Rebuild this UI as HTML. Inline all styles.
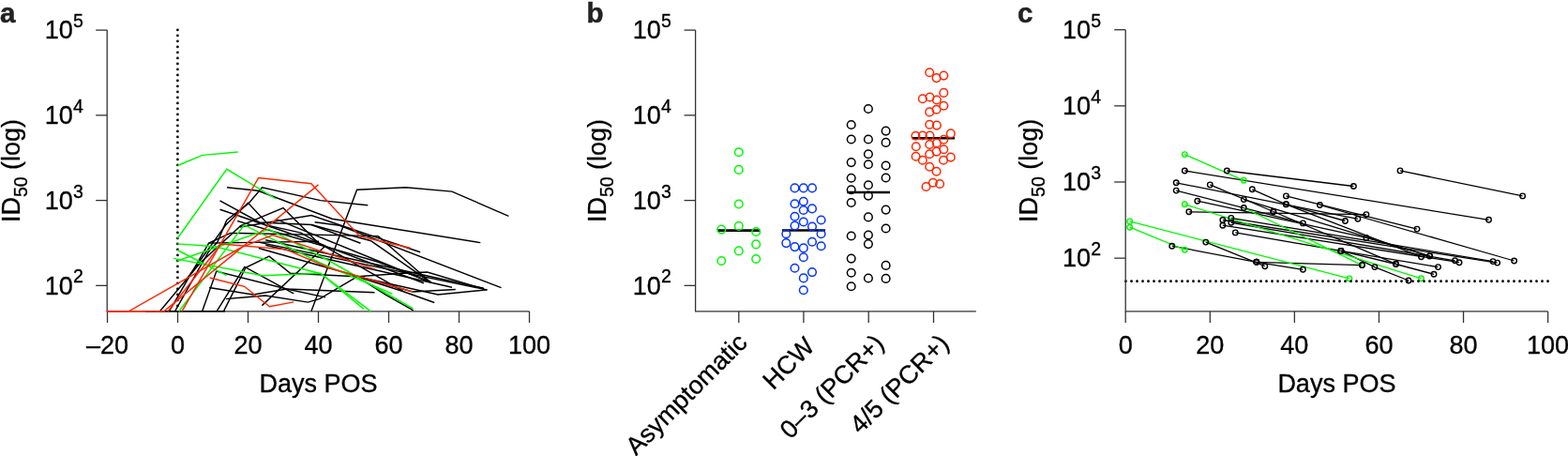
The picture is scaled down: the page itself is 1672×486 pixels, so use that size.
<!DOCTYPE html>
<html lang="en">
<head>
<meta charset="utf-8">
<title>Figure: ID50 over days POS</title>
<style>
html,body{margin:0;padding:0;background:#fff;}
body{width:1672px;height:486px;overflow:hidden;}
svg{display:block;}
svg text{stroke:#000;stroke-width:0.32px;stroke-linejoin:round;}
svg text.pl{stroke:#222;stroke-width:0.5px;}
</style>
</head>
<body>
<svg width="1672" height="486" viewBox="0 0 1672 486" font-family="'Liberation Sans', sans-serif" fill="#000">
<rect width="1672" height="486" fill="#fff"/>
<g id="panel-a">
<text x="0" y="24" class="pl" font-size="29.5" font-weight="bold" fill="#222">a</text>
<g stroke="#333333" stroke-width="1.3" fill="none">
<path d="M114.2 32.1V331.9H564.5"/>
<line x1="102.2" y1="32.10" x2="114.2" y2="32.10"/>
<line x1="102.2" y1="122.85" x2="114.2" y2="122.85"/>
<line x1="102.2" y1="213.60" x2="114.2" y2="213.60"/>
<line x1="102.2" y1="304.35" x2="114.2" y2="304.35"/>
<line x1="114.50" y1="331.9" x2="114.50" y2="344.0"/>
<line x1="189.50" y1="331.9" x2="189.50" y2="344.0"/>
<line x1="264.50" y1="331.9" x2="264.50" y2="344.0"/>
<line x1="339.50" y1="331.9" x2="339.50" y2="344.0"/>
<line x1="414.50" y1="331.9" x2="414.50" y2="344.0"/>
<line x1="489.50" y1="331.9" x2="489.50" y2="344.0"/>
<line x1="564.50" y1="331.9" x2="564.50" y2="344.0"/>
</g>
<line x1="189.4" y1="31.9" x2="189.4" y2="331.9" stroke="#000" stroke-width="2.8" stroke-linecap="round" stroke-dasharray="0 6"/>
<g fill="none" stroke-width="1.45" stroke-linejoin="miter" stroke-linecap="butt">
<polyline points="155.0,331.8 240.0,331.8" stroke="#000000"/>
<polyline points="242.0,199.7 275.1,203.3 354.1,233.3 512.3,258.6" stroke="#000000"/>
<polyline points="231.9,258.0 241.7,234.6 265.2,216.7 279.5,199.7 341.7,213.6 392.3,218.8" stroke="#000000"/>
<polyline points="331.9,331.8 380.6,202.2 432.8,199.8 481.9,204.1 542.4,230.4" stroke="#000000"/>
<polyline points="215.6,331.8 230.8,289.0 305.8,308.0 399.5,311.7" stroke="#000000"/>
<polyline points="231.0,331.8 260.8,284.4 313.2,312.9" stroke="#000000"/>
<polyline points="223.0,306.5 270.0,314.0 305.8,308.0 347.0,316.9" stroke="#000000"/>
<polyline points="234.5,213.9 276.7,237.0 332.0,239.5 395.8,256.8" stroke="#000000"/>
<polyline points="234.5,223.2 294.5,243.7 347.0,261.9" stroke="#000000"/>
<polyline points="197.3,300.0 240.5,240.0 264.5,216.3 287.4,240.7 320.8,248.1 429.5,310.2" stroke="#000000"/>
<polyline points="170.5,331.8 213.7,280.0 256.5,240.7 302.0,221.7 340.5,260.0 452.0,301.8" stroke="#000000"/>
<polyline points="238.4,331.8 261.9,285.4 287.0,273.1 309.6,291.2 380.8,294.8 410.8,313.9 440.8,330.9" stroke="#000000"/>
<polyline points="279.4,325.6 346.7,262.2" stroke="#000000"/>
<polyline points="240.9,318.6 282.9,315.1 328.3,322.1 340.6,318.6 380.8,294.8" stroke="#000000"/>
<polyline points="283.2,255.8 515.8,307.2" stroke="#000000"/>
<polyline points="380.8,294.8 437.0,290.7 455.6,290.1 516.0,308.0" stroke="#000000"/>
<polyline points="395.8,256.8 459.5,301.2" stroke="#000000"/>
<polyline points="403.2,251.6 459.5,301.2" stroke="#000000"/>
<polyline points="275.8,258.1 519.5,308.9" stroke="#000000"/>
<polyline points="283.2,261.2 482.0,306.3" stroke="#000000"/>
<polyline points="275.8,264.5 439.9,310.9 485.8,308.5" stroke="#000000"/>
<polyline points="294.5,233.7 459.5,301.0" stroke="#000000"/>
<polyline points="253.2,235.5 403.2,279.2 459.5,300.6" stroke="#000000"/>
<polyline points="186.5,331.8 222.6,268.0 231.9,258.0" stroke="#000000"/>
<polyline points="332.0,239.5 384.5,259.2" stroke="#000000"/>
<polyline points="256.0,242.0 332.0,229.6 448.2,268.8" stroke="#000000"/>
<polyline points="335.6,236.7 362.0,240.3 534.5,306.6" stroke="#000000"/>
<polyline points="222.6,259.1 245.8,248.4 403.2,251.6" stroke="#000000"/>
<polyline points="380.8,294.8 467.0,313.9 519.5,308.9" stroke="#000000"/>
<polyline points="380.8,294.8 429.5,310.5 463.2,322.5" stroke="#000000"/>
<polyline points="180.4,331.8 222.6,259.1 340.0,257.3" stroke="#000000"/>
<polyline points="189.3,176.5 215.8,165.4 253.7,162.0" stroke="#00f900"/>
<polyline points="189.3,254.0 241.8,180.3 294.3,212.0" stroke="#00f900"/>
<polyline points="190.9,331.8 260.4,239.8 341.1,280.0 418.3,313.1" stroke="#00f900"/>
<polyline points="189.1,278.0 286.7,244.3 354.7,280.0 440.5,329.0" stroke="#00f900"/>
<polyline points="189.1,259.9 229.4,262.8 342.3,291.7 388.0,329.4" stroke="#00f900"/>
<polyline points="189.1,266.5 241.7,293.7" stroke="#00f900"/>
<polyline points="184.9,275.4 280.0,293.7 341.7,291.2 395.4,331.8" stroke="#00f900"/>
<polyline points="113.7,331.8 137.2,331.8 258.0,263.3 290.8,250.5 399.8,286.9" stroke="#ff2600"/>
<polyline points="113.7,331.8 174.8,331.8 339.5,196.9" stroke="#ff2600"/>
<polyline points="194.0,331.8 275.7,189.5 331.9,195.7 383.7,251.9 437.4,264.3" stroke="#ff2600"/>
<polyline points="179.1,331.8 236.0,260.0 304.7,265.9 351.6,285.7 439.9,310.9" stroke="#ff2600"/>
<polyline points="223.6,296.0 260.6,305.3 287.4,326.7 313.3,321.9" stroke="#ff2600"/>
</g>
<text x="77.8" y="41.30" text-anchor="end" font-size="27">10</text><text x="88.8" y="29.10" text-anchor="end" font-size="19.5">5</text>
<text x="77.8" y="132.05" text-anchor="end" font-size="27">10</text><text x="88.8" y="119.85" text-anchor="end" font-size="19.5">4</text>
<text x="77.8" y="222.80" text-anchor="end" font-size="27">10</text><text x="88.8" y="210.60" text-anchor="end" font-size="19.5">3</text>
<text x="77.8" y="313.55" text-anchor="end" font-size="27">10</text><text x="88.8" y="301.35" text-anchor="end" font-size="19.5">2</text>
<text x="114.50" y="377.4" text-anchor="middle" font-size="27">–20</text>
<text x="189.50" y="377.4" text-anchor="middle" font-size="27">0</text>
<text x="264.50" y="377.4" text-anchor="middle" font-size="27">20</text>
<text x="339.50" y="377.4" text-anchor="middle" font-size="27">40</text>
<text x="414.50" y="377.4" text-anchor="middle" font-size="27">60</text>
<text x="489.50" y="377.4" text-anchor="middle" font-size="27">80</text>
<text x="564.50" y="377.4" text-anchor="middle" font-size="27">100</text>
<text x="339.50" y="417.7" text-anchor="middle" font-size="27">Days POS</text>
<text transform="translate(21 182.00) rotate(-90)" text-anchor="middle" font-size="27">ID<tspan dy="8" font-size="19.5">50</tspan><tspan dy="-8"> (log)</tspan></text>
</g>
<g id="panel-b">
<text x="625.5" y="24" class="pl" font-size="29.5" font-weight="bold" fill="#222">b</text>
<g stroke="#333333" stroke-width="1.3" fill="none">
<path d="M741.6 32.1V331.9H1040.8"/>
<line x1="729.6" y1="32.10" x2="741.6" y2="32.10"/>
<line x1="729.6" y1="122.85" x2="741.6" y2="122.85"/>
<line x1="729.6" y1="213.60" x2="741.6" y2="213.60"/>
<line x1="729.6" y1="304.35" x2="741.6" y2="304.35"/>
<line x1="787.8" y1="331.9" x2="787.8" y2="344.0"/>
<line x1="856.9" y1="331.9" x2="856.9" y2="344.0"/>
<line x1="926.2" y1="331.9" x2="926.2" y2="344.0"/>
<line x1="995.5" y1="331.9" x2="995.5" y2="344.0"/>
</g>
<text x="704.8" y="41.30" text-anchor="end" font-size="27">10</text><text x="715.8" y="29.10" text-anchor="end" font-size="19.5">5</text>
<text x="704.8" y="132.05" text-anchor="end" font-size="27">10</text><text x="715.8" y="119.85" text-anchor="end" font-size="19.5">4</text>
<text x="704.8" y="222.80" text-anchor="end" font-size="27">10</text><text x="715.8" y="210.60" text-anchor="end" font-size="19.5">3</text>
<text x="704.8" y="313.55" text-anchor="end" font-size="27">10</text><text x="715.8" y="301.35" text-anchor="end" font-size="19.5">2</text>
<text transform="translate(798.2 366.6) rotate(-45)" text-anchor="end" font-size="27">Asymptomatic</text>
<text transform="translate(870.0 370.8) rotate(-45)" text-anchor="end" font-size="27">HCW</text>
<text transform="translate(944.0 367.6) rotate(-45)" text-anchor="end" font-size="27">0–3 (PCR+)</text>
<text transform="translate(1013.3 367.6) rotate(-45)" text-anchor="end" font-size="27">4/5 (PCR+)</text>
<text transform="translate(646.3 182.00) rotate(-90)" text-anchor="middle" font-size="27">ID<tspan dy="8" font-size="19.5">50</tspan><tspan dy="-8"> (log)</tspan></text>
<g stroke="#000" stroke-width="2.6">
<line x1="764.8" y1="245.6" x2="810.5" y2="245.6"/>
<line x1="834" y1="245.5" x2="879.9" y2="245.5"/>
<line x1="903.3" y1="205.0" x2="949" y2="205.0"/>
<line x1="972.7" y1="147.2" x2="1018" y2="147.2"/>
</g>
<g fill="none" stroke-width="1.5">
<g stroke="#00f900">
<circle cx="787.8" cy="162.3" r="4.3"/>
<circle cx="787.8" cy="180.9" r="4.3"/>
<circle cx="787.8" cy="217.5" r="4.3"/>
<circle cx="787.8" cy="240.9" r="4.3"/>
<circle cx="769.3" cy="244.6" r="4.3"/>
<circle cx="806.2" cy="247.0" r="4.3"/>
<circle cx="806.2" cy="260.4" r="4.3"/>
<circle cx="787.8" cy="267.4" r="4.3"/>
<circle cx="806.2" cy="276.0" r="4.3"/>
<circle cx="769.3" cy="278.0" r="4.3"/>
</g>
<g stroke="#0433ff">
<circle cx="847.5" cy="200.4" r="4.3"/>
<circle cx="856.8" cy="200.4" r="4.3"/>
<circle cx="866.0" cy="200.4" r="4.3"/>
<circle cx="847.5" cy="217.2" r="4.3"/>
<circle cx="856.8" cy="214.8" r="4.3"/>
<circle cx="856.8" cy="224.0" r="4.3"/>
<circle cx="866.0" cy="222.4" r="4.3"/>
<circle cx="847.5" cy="230.8" r="4.3"/>
<circle cx="856.8" cy="236.5" r="4.3"/>
<circle cx="875.6" cy="234.5" r="4.3"/>
<circle cx="847.5" cy="240.6" r="4.3"/>
<circle cx="866.0" cy="241.6" r="4.3"/>
<circle cx="838.3" cy="249.3" r="4.3"/>
<circle cx="875.6" cy="249.3" r="4.3"/>
<circle cx="838.3" cy="259.1" r="4.3"/>
<circle cx="866.0" cy="257.7" r="4.3"/>
<circle cx="875.6" cy="262.2" r="4.3"/>
<circle cx="847.5" cy="263.1" r="4.3"/>
<circle cx="856.8" cy="264.4" r="4.3"/>
<circle cx="856.8" cy="274.2" r="4.3"/>
<circle cx="847.5" cy="285.8" r="4.3"/>
<circle cx="866.0" cy="290.1" r="4.3"/>
<circle cx="856.8" cy="296.4" r="4.3"/>
<circle cx="856.8" cy="309.3" r="4.3"/>
</g>
<g stroke="#000000">
<circle cx="925.9" cy="116.0" r="4.3"/>
<circle cx="907.7" cy="133.0" r="4.3"/>
<circle cx="944.6" cy="139.6" r="4.3"/>
<circle cx="907.7" cy="148.5" r="4.3"/>
<circle cx="925.9" cy="148.5" r="4.3"/>
<circle cx="944.6" cy="151.9" r="4.3"/>
<circle cx="925.9" cy="164.3" r="4.3"/>
<circle cx="907.7" cy="173.1" r="4.3"/>
<circle cx="925.9" cy="175.3" r="4.3"/>
<circle cx="944.6" cy="176.5" r="4.3"/>
<circle cx="907.7" cy="189.8" r="4.3"/>
<circle cx="944.6" cy="189.5" r="4.3"/>
<circle cx="925.9" cy="197.3" r="4.3"/>
<circle cx="907.7" cy="202.2" r="4.3"/>
<circle cx="925.9" cy="208.6" r="4.3"/>
<circle cx="907.7" cy="216.0" r="4.3"/>
<circle cx="944.6" cy="223.6" r="4.3"/>
<circle cx="925.9" cy="231.4" r="4.3"/>
<circle cx="944.6" cy="243.5" r="4.3"/>
<circle cx="925.9" cy="250.5" r="4.3"/>
<circle cx="907.7" cy="251.5" r="4.3"/>
<circle cx="925.9" cy="260.1" r="4.3"/>
<circle cx="907.7" cy="275.6" r="4.3"/>
<circle cx="944.6" cy="282.9" r="4.3"/>
<circle cx="907.7" cy="290.7" r="4.3"/>
<circle cx="925.9" cy="296.5" r="4.3"/>
<circle cx="944.6" cy="296.9" r="4.3"/>
<circle cx="907.7" cy="305.2" r="4.3"/>
</g>
<g stroke="#ff2600">
<circle cx="991.2" cy="77.3" r="4.3"/>
<circle cx="998.6" cy="83.1" r="4.3"/>
<circle cx="1006.3" cy="80.6" r="4.3"/>
<circle cx="1006.3" cy="98.9" r="4.3"/>
<circle cx="983.8" cy="105.3" r="4.3"/>
<circle cx="991.5" cy="103.5" r="4.3"/>
<circle cx="998.9" cy="106.5" r="4.3"/>
<circle cx="1006.3" cy="112.7" r="4.3"/>
<circle cx="998.6" cy="116.8" r="4.3"/>
<circle cx="991.2" cy="119.4" r="4.3"/>
<circle cx="991.2" cy="132.8" r="4.3"/>
<circle cx="998.9" cy="133.6" r="4.3"/>
<circle cx="1013.8" cy="142.4" r="4.3"/>
<circle cx="976.4" cy="144.8" r="4.3"/>
<circle cx="983.8" cy="144.5" r="4.3"/>
<circle cx="991.5" cy="144.5" r="4.3"/>
<circle cx="1006.3" cy="148.8" r="4.3"/>
<circle cx="998.9" cy="152.5" r="4.3"/>
<circle cx="991.2" cy="154.0" r="4.3"/>
<circle cx="976.8" cy="156.3" r="4.3"/>
<circle cx="1006.3" cy="159.2" r="4.3"/>
<circle cx="998.6" cy="161.6" r="4.3"/>
<circle cx="991.2" cy="164.3" r="4.3"/>
<circle cx="976.6" cy="166.8" r="4.3"/>
<circle cx="1013.8" cy="167.6" r="4.3"/>
<circle cx="983.8" cy="170.7" r="4.3"/>
<circle cx="1006.0" cy="170.7" r="4.3"/>
<circle cx="991.2" cy="177.8" r="4.3"/>
<circle cx="998.6" cy="182.7" r="4.3"/>
<circle cx="994.9" cy="194.7" r="4.3"/>
<circle cx="1002.1" cy="196.0" r="4.3"/>
<circle cx="987.5" cy="199.0" r="4.3"/>
</g>
</g>
</g>
<g id="panel-c">
<text x="1085" y="24" class="pl" font-size="29.5" font-weight="bold" fill="#222">c</text>
<g fill="none" stroke-width="1.4">
<polyline points="1263.3,182.0 1587.5,234.3" stroke="#000000" stroke-width="1.3"/>
<polyline points="1308.3,182.0 1443.4,198.5" stroke="#000000" stroke-width="1.3"/>
<polyline points="1493.0,181.9 1623.6,208.9" stroke="#000000" stroke-width="1.3"/>
<polyline points="1249.7,262.2 1339.8,279.3" stroke="#000000" stroke-width="1.3"/>
<polyline points="1285.8,258.1 1348.8,283.7" stroke="#000000" stroke-width="1.3"/>
<polyline points="1339.8,279.3 1452.4,282.6" stroke="#000000" stroke-width="1.3"/>
<polyline points="1339.8,279.3 1389.4,287.3" stroke="#000000" stroke-width="1.3"/>
<polyline points="1254.2,194.8 1447.9,233.3" stroke="#000000" stroke-width="1.3"/>
<polyline points="1254.2,203.1 1389.4,237.9" stroke="#000000" stroke-width="1.3"/>
<polyline points="1290.3,196.9 1357.8,225.5" stroke="#000000" stroke-width="1.3"/>
<polyline points="1335.3,201.8 1371.4,217.8 1515.5,273.7" stroke="#000000" stroke-width="1.3"/>
<polyline points="1357.8,225.5 1488.5,281.3" stroke="#000000" stroke-width="1.3"/>
<polyline points="1317.3,247.9 1429.9,267.4" stroke="#000000" stroke-width="1.3"/>
<polyline points="1429.9,267.4 1465.9,284.6 1502.0,299.0" stroke="#000000" stroke-width="1.3"/>
<polyline points="1312.8,232.4 1592.0,278.6" stroke="#000000" stroke-width="1.3"/>
<polyline points="1303.8,234.5 1596.6,280.1" stroke="#000000" stroke-width="1.3"/>
<polyline points="1312.8,237.3 1551.5,277.8" stroke="#000000" stroke-width="1.3"/>
<polyline points="1303.8,240.2 1556.0,279.7" stroke="#000000" stroke-width="1.3"/>
<polyline points="1326.3,212.6 1524.5,273.0" stroke="#000000" stroke-width="1.3"/>
<polyline points="1276.8,214.2 1456.9,253.4 1524.5,272.6" stroke="#000000" stroke-width="1.3"/>
<polyline points="1371.4,217.8 1434.4,235.5" stroke="#000000" stroke-width="1.3"/>
<polyline points="1371.4,208.9 1511.0,244.1" stroke="#000000" stroke-width="1.3"/>
<polyline points="1407.4,218.5 1614.6,278.0" stroke="#000000" stroke-width="1.3"/>
<polyline points="1267.8,225.8 1456.9,228.6" stroke="#000000" stroke-width="1.3"/>
<polyline points="1429.9,267.4 1533.5,284.6" stroke="#000000" stroke-width="1.3"/>
<polyline points="1429.9,267.4 1488.5,281.5 1529.0,292.3" stroke="#000000" stroke-width="1.3"/>
<polyline points="1263.3,164.6 1326.3,192.3" stroke="#00f900" stroke-width="1.3"/>
<polyline points="1204.7,235.9 1438.9,296.9" stroke="#00f900" stroke-width="1.3"/>
<polyline points="1204.7,242.2 1263.3,266.2" stroke="#00f900" stroke-width="1.3"/>
<polyline points="1263.3,217.8 1515.5,296.8" stroke="#00f900" stroke-width="1.3"/>
<polyline points="1326.3,221.5 1452.4,282.6" stroke="#00f900" stroke-width="1.3"/>
<circle cx="1263.3" cy="164.6" r="2.75" stroke="#00f900" stroke-width="1.4"/>
<circle cx="1326.3" cy="192.3" r="2.75" stroke="#00f900" stroke-width="1.4"/>
<circle cx="1263.3" cy="182.0" r="2.75" stroke="#000000" stroke-width="1.4"/>
<circle cx="1587.5" cy="234.3" r="2.75" stroke="#000000" stroke-width="1.4"/>
<circle cx="1308.3" cy="182.0" r="2.75" stroke="#000000" stroke-width="1.4"/>
<circle cx="1443.4" cy="198.5" r="2.75" stroke="#000000" stroke-width="1.4"/>
<circle cx="1493.0" cy="181.9" r="2.75" stroke="#000000" stroke-width="1.4"/>
<circle cx="1623.6" cy="208.9" r="2.75" stroke="#000000" stroke-width="1.4"/>
<circle cx="1204.7" cy="235.9" r="2.75" stroke="#00f900" stroke-width="1.4"/>
<circle cx="1438.9" cy="296.9" r="2.75" stroke="#00f900" stroke-width="1.4"/>
<circle cx="1204.7" cy="242.2" r="2.75" stroke="#00f900" stroke-width="1.4"/>
<circle cx="1263.3" cy="266.2" r="2.75" stroke="#00f900" stroke-width="1.4"/>
<circle cx="1263.3" cy="217.8" r="2.75" stroke="#00f900" stroke-width="1.4"/>
<circle cx="1515.5" cy="296.8" r="2.75" stroke="#00f900" stroke-width="1.4"/>
<circle cx="1326.3" cy="221.5" r="2.75" stroke="#000000" stroke-width="1.4"/>
<circle cx="1452.4" cy="282.6" r="2.75" stroke="#000000" stroke-width="1.4"/>
<circle cx="1249.7" cy="262.2" r="2.75" stroke="#000000" stroke-width="1.4"/>
<circle cx="1339.8" cy="279.3" r="2.75" stroke="#000000" stroke-width="1.4"/>
<circle cx="1285.8" cy="258.1" r="2.75" stroke="#000000" stroke-width="1.4"/>
<circle cx="1348.8" cy="283.7" r="2.75" stroke="#000000" stroke-width="1.4"/>
<circle cx="1339.8" cy="279.3" r="2.75" stroke="#000000" stroke-width="1.4"/>
<circle cx="1452.4" cy="282.6" r="2.75" stroke="#000000" stroke-width="1.4"/>
<circle cx="1339.8" cy="279.3" r="2.75" stroke="#000000" stroke-width="1.4"/>
<circle cx="1389.4" cy="287.3" r="2.75" stroke="#000000" stroke-width="1.4"/>
<circle cx="1254.2" cy="194.8" r="2.75" stroke="#000000" stroke-width="1.4"/>
<circle cx="1447.9" cy="233.3" r="2.75" stroke="#000000" stroke-width="1.4"/>
<circle cx="1254.2" cy="203.1" r="2.75" stroke="#000000" stroke-width="1.4"/>
<circle cx="1389.4" cy="237.9" r="2.75" stroke="#000000" stroke-width="1.4"/>
<circle cx="1290.3" cy="196.9" r="2.75" stroke="#000000" stroke-width="1.4"/>
<circle cx="1357.8" cy="225.5" r="2.75" stroke="#000000" stroke-width="1.4"/>
<circle cx="1335.3" cy="201.8" r="2.75" stroke="#000000" stroke-width="1.4"/>
<circle cx="1371.4" cy="217.8" r="2.75" stroke="#000000" stroke-width="1.4"/>
<circle cx="1515.5" cy="273.7" r="2.75" stroke="#000000" stroke-width="1.4"/>
<circle cx="1357.8" cy="225.5" r="2.75" stroke="#000000" stroke-width="1.4"/>
<circle cx="1488.5" cy="281.3" r="2.75" stroke="#000000" stroke-width="1.4"/>
<circle cx="1317.3" cy="247.9" r="2.75" stroke="#000000" stroke-width="1.4"/>
<circle cx="1429.9" cy="267.4" r="2.75" stroke="#000000" stroke-width="1.4"/>
<circle cx="1429.9" cy="267.4" r="2.75" stroke="#000000" stroke-width="1.4"/>
<circle cx="1465.9" cy="284.6" r="2.75" stroke="#000000" stroke-width="1.4"/>
<circle cx="1502.0" cy="299.0" r="2.75" stroke="#000000" stroke-width="1.4"/>
<circle cx="1312.8" cy="232.4" r="2.75" stroke="#000000" stroke-width="1.4"/>
<circle cx="1592.0" cy="278.6" r="2.75" stroke="#000000" stroke-width="1.4"/>
<circle cx="1303.8" cy="234.5" r="2.75" stroke="#000000" stroke-width="1.4"/>
<circle cx="1596.6" cy="280.1" r="2.75" stroke="#000000" stroke-width="1.4"/>
<circle cx="1312.8" cy="237.3" r="2.75" stroke="#000000" stroke-width="1.4"/>
<circle cx="1551.5" cy="277.8" r="2.75" stroke="#000000" stroke-width="1.4"/>
<circle cx="1303.8" cy="240.2" r="2.75" stroke="#000000" stroke-width="1.4"/>
<circle cx="1556.0" cy="279.7" r="2.75" stroke="#000000" stroke-width="1.4"/>
<circle cx="1326.3" cy="212.6" r="2.75" stroke="#000000" stroke-width="1.4"/>
<circle cx="1524.5" cy="273.0" r="2.75" stroke="#000000" stroke-width="1.4"/>
<circle cx="1276.8" cy="214.2" r="2.75" stroke="#000000" stroke-width="1.4"/>
<circle cx="1456.9" cy="253.4" r="2.75" stroke="#000000" stroke-width="1.4"/>
<circle cx="1524.5" cy="272.6" r="2.75" stroke="#000000" stroke-width="1.4"/>
<circle cx="1371.4" cy="217.8" r="2.75" stroke="#000000" stroke-width="1.4"/>
<circle cx="1434.4" cy="235.5" r="2.75" stroke="#000000" stroke-width="1.4"/>
<circle cx="1371.4" cy="208.9" r="2.75" stroke="#000000" stroke-width="1.4"/>
<circle cx="1511.0" cy="244.1" r="2.75" stroke="#000000" stroke-width="1.4"/>
<circle cx="1407.4" cy="218.5" r="2.75" stroke="#000000" stroke-width="1.4"/>
<circle cx="1614.6" cy="278.0" r="2.75" stroke="#000000" stroke-width="1.4"/>
<circle cx="1267.8" cy="225.8" r="2.75" stroke="#000000" stroke-width="1.4"/>
<circle cx="1456.9" cy="228.6" r="2.75" stroke="#000000" stroke-width="1.4"/>
<circle cx="1429.9" cy="267.4" r="2.75" stroke="#000000" stroke-width="1.4"/>
<circle cx="1533.5" cy="284.6" r="2.75" stroke="#000000" stroke-width="1.4"/>
<circle cx="1429.9" cy="267.4" r="2.75" stroke="#000000" stroke-width="1.4"/>
<circle cx="1488.5" cy="281.5" r="2.75" stroke="#000000" stroke-width="1.4"/>
<circle cx="1529.0" cy="292.3" r="2.75" stroke="#000000" stroke-width="1.4"/>
</g>
<line x1="1200.5" y1="299.75" x2="1651.6" y2="299.75" stroke="#000" stroke-width="2.8" stroke-linecap="round" stroke-dasharray="0 6"/>
<g stroke="#333333" stroke-width="1.3" fill="none">
<path d="M1200.2 31.7V331.9H1650.6"/>
<line x1="1188.2" y1="31.70" x2="1200.2" y2="31.70"/>
<line x1="1188.2" y1="112.85" x2="1200.2" y2="112.85"/>
<line x1="1188.2" y1="194.00" x2="1200.2" y2="194.00"/>
<line x1="1188.2" y1="275.15" x2="1200.2" y2="275.15"/>
<line x1="1200.20" y1="331.9" x2="1200.20" y2="344.0"/>
<line x1="1290.28" y1="331.9" x2="1290.28" y2="344.0"/>
<line x1="1380.36" y1="331.9" x2="1380.36" y2="344.0"/>
<line x1="1470.44" y1="331.9" x2="1470.44" y2="344.0"/>
<line x1="1560.52" y1="331.9" x2="1560.52" y2="344.0"/>
<line x1="1650.60" y1="331.9" x2="1650.60" y2="344.0"/>
</g>
<text x="1163.0" y="40.90" text-anchor="end" font-size="27">10</text><text x="1174.0" y="28.70" text-anchor="end" font-size="19.5">5</text>
<text x="1163.0" y="122.05" text-anchor="end" font-size="27">10</text><text x="1174.0" y="109.85" text-anchor="end" font-size="19.5">4</text>
<text x="1163.0" y="203.20" text-anchor="end" font-size="27">10</text><text x="1174.0" y="191.00" text-anchor="end" font-size="19.5">3</text>
<text x="1163.0" y="284.35" text-anchor="end" font-size="27">10</text><text x="1174.0" y="272.15" text-anchor="end" font-size="19.5">2</text>
<text x="1200.20" y="377.4" text-anchor="middle" font-size="27">0</text>
<text x="1290.28" y="377.4" text-anchor="middle" font-size="27">20</text>
<text x="1380.36" y="377.4" text-anchor="middle" font-size="27">40</text>
<text x="1470.44" y="377.4" text-anchor="middle" font-size="27">60</text>
<text x="1560.52" y="377.4" text-anchor="middle" font-size="27">80</text>
<text x="1650.60" y="377.4" text-anchor="middle" font-size="27">100</text>
<text x="1425.40" y="417.7" text-anchor="middle" font-size="27">Days POS</text>
<text transform="translate(1105.5 181.80) rotate(-90)" text-anchor="middle" font-size="27">ID<tspan dy="8" font-size="19.5">50</tspan><tspan dy="-8"> (log)</tspan></text>
</g>
</svg>
</body>
</html>
